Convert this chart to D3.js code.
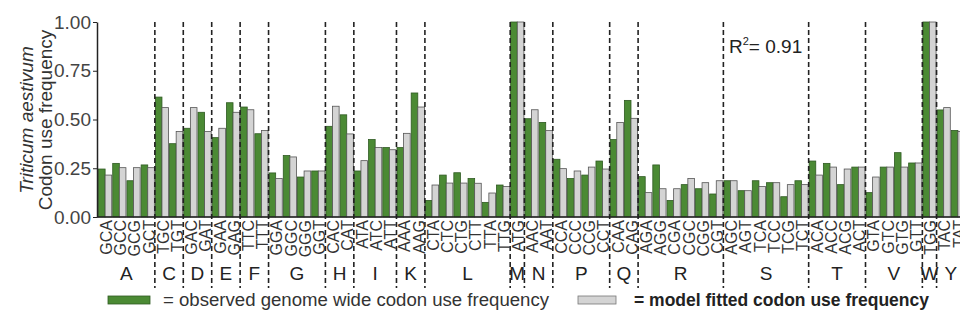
<!DOCTYPE html>
<html>
<head>
<meta charset="utf-8">
<script src="https://cdn.jsdelivr.net/npm/d3@7"></script>
<style>
  body { margin: 0; background: #fff; }
  text { font-family: "Liberation Sans", Arial, sans-serif; }
</style>
</head>
<body>
<div id="chart"></div>
<script>
// amino acid groups and their codons
const aminoAcids = ["A", "C", "D", "E", "F", "G", "H", "I", "K", "L", "M", "N", "P", "Q", "R", "S", "T", "V", "W", "Y"];
const codonsByAA = [
  ["GCA", "GCC", "GCG", "GCT"],
  ["TGC", "TGT"],
  ["GAC", "GAT"],
  ["GAA", "GAG"],
  ["TTC", "TTT"],
  ["GGA", "GGC", "GGG", "GGT"],
  ["CAC", "CAT"],
  ["ATA", "ATC", "ATT"],
  ["AAA", "AAG"],
  ["CTA", "CTC", "CTG", "CTT", "TTA", "TTG"],
  ["ATG"],
  ["AAC", "AAT"],
  ["CCA", "CCC", "CCG", "CCT"],
  ["CAA", "CAG"],
  ["AGA", "AGG", "CGA", "CGC", "CGG", "CGT"],
  ["AGC", "AGT", "TCA", "TCC", "TCG", "TCT"],
  ["ACA", "ACC", "ACG", "ACT"],
  ["GTA", "GTC", "GTG", "GTT"],
  ["TGG"],
  ["TAC", "TAT"]
];

// observed genome wide codon use frequency
const observed = [
  0.246, 0.275, 0.186, 0.267,
  0.615, 0.376,
  0.455, 0.537,
  0.407, 0.586,
  0.564, 0.427,
  0.226, 0.315, 0.205, 0.236,
  0.465, 0.524,
  0.236, 0.397, 0.356,
  0.356, 0.636,
  0.085, 0.215, 0.227, 0.197, 0.075, 0.164,
  1.0,
  0.504, 0.485,
  0.296, 0.197, 0.215, 0.287,
  0.397, 0.598,
  0.207, 0.267, 0.085, 0.166, 0.145, 0.118,
  0.186, 0.135, 0.186, 0.176, 0.104, 0.186,
  0.287, 0.275, 0.166, 0.256,
  0.125, 0.256, 0.330, 0.277,
  1.0,
  0.549, 0.444
];

// model fitted codon use frequency
const fitted = [
  0.215, 0.253, 0.253, 0.253,
  0.561, 0.438,
  0.561, 0.438,
  0.455, 0.537,
  0.550, 0.444,
  0.197, 0.308, 0.236, 0.236,
  0.568, 0.426,
  0.289, 0.356, 0.345,
  0.429, 0.564,
  0.164, 0.174, 0.174, 0.173, 0.123, 0.156,
  1.0,
  0.550, 0.443,
  0.248, 0.236, 0.256, 0.246,
  0.485, 0.506,
  0.125, 0.145, 0.145, 0.197, 0.176, 0.186,
  0.186, 0.135, 0.156, 0.176, 0.166, 0.166,
  0.215, 0.256, 0.246, 0.256,
  0.205, 0.256, 0.256, 0.277,
  1.0,
  0.561, 0.439
];

const yTicks = [0, 0.25, 0.5, 0.75, 1];

const width = 960;
const height = 320;
const green = "#4b8a34";
const grey = "#d4d4d4";

const codons = codonsByAA.flat();
const rows = codons.map((c, i) => ({ codon: c, obs: observed[i], fit: fitted[i] }));

const svg = d3
  .select("#chart")
  .append("svg")
  .attr("width", width)
  .attr("height", height);

// plot runs past the right edge, like the cropped original
const x = d3.scaleBand().domain(codons).range([98, 965]).padding(0);
const y = d3.scaleLinear().domain([0, 1]).range([217, 22]);
const bw = x.bandwidth() / 2;

// group boundaries
const groups = codonsByAA.map((list, i) => ({
  aa: aminoAcids[i],
  x0: x(list[0]),
  x1: x(list[list.length - 1]) + x.bandwidth(),
}));

// bars
const barG = svg.append("g");
barG
  .selectAll("rect.obs")
  .data(rows)
  .join("rect")
  .attr("class", "obs")
  .attr("x", (d) => x(d.codon) + 0.5)
  .attr("y", (d) => y(d.obs))
  .attr("width", bw - 0.5)
  .attr("height", (d) => y(0) - y(d.obs))
  .attr("fill", green)
  .attr("stroke", "#2f5a22")
  .attr("stroke-width", 0.8);

barG
  .selectAll("rect.fit")
  .data(rows)
  .join("rect")
  .attr("class", "fit")
  .attr("x", (d) => x(d.codon) + bw)
  .attr("y", (d) => y(d.fit))
  .attr("width", bw - 0.5)
  .attr("height", (d) => y(0) - y(d.fit))
  .attr("fill", grey)
  .attr("stroke", "#555")
  .attr("stroke-width", 0.8);

// dashed separators between amino acids
svg
  .append("g")
  .selectAll("line")
  .data(groups.slice(0, -1))
  .join("line")
  .attr("x1", (d) => d.x1)
  .attr("x2", (d) => d.x1)
  .attr("y1", y(1))
  .attr("y2", 288)
  .attr("stroke", "#222")
  .attr("stroke-width", 1.6)
  .attr("stroke-dasharray", "5,3");

// y axis
const yAxis = svg
  .append("g")
  .attr("transform", "translate(97,0)")
  .call(d3.axisLeft(y).tickValues(yTicks).tickFormat(d3.format(".2f")).tickSize(4).tickSizeOuter(0));
yAxis.select(".domain").attr("stroke", "#222").attr("stroke-width", 1.5);
yAxis.selectAll(".tick line").attr("stroke", "#222");
yAxis
  .selectAll(".tick text")
  .attr("font-size", "19px")
  .attr("fill", "#444")
  .attr("x", -6)
  .style("font-family", "Liberation Sans, Arial, sans-serif");

// x baseline
svg
  .append("line")
  .attr("x1", 97)
  .attr("x2", 965)
  .attr("y1", y(0))
  .attr("y2", y(0))
  .attr("stroke", "#222")
  .attr("stroke-width", 1.5);

// codon labels
svg
  .append("g")
  .selectAll("text")
  .data(codons)
  .join("text")
  .attr("transform", (d) => `translate(${x(d) + x.bandwidth() / 2 + 1},220) rotate(-90)`)
  .attr("text-anchor", "end")
  .attr("dy", "0.36em")
  .attr("font-size", "16px")
  .attr("fill", "#333")
  .text((d) => d);

// amino acid letters
svg
  .append("g")
  .selectAll("text")
  .data(groups)
  .join("text")
  .attr("x", (d) => (d.x0 + d.x1) / 2)
  .attr("y", 280)
  .attr("text-anchor", "middle")
  .attr("font-size", "19px")
  .attr("fill", "#222")
  .text((d) => d.aa);

// y title
const yTitle = svg
  .append("text")
  .attr("transform", "translate(0,120) rotate(-90)")
  .attr("text-anchor", "middle")
  .attr("font-size", "19px")
  .attr("fill", "#333");
yTitle.append("tspan").attr("x", 0).attr("y", 33).attr("font-style", "italic").text("Triticum aestivum");
yTitle.append("tspan").attr("x", 0).attr("y", 52).text("Codon use frequency");

// R squared
const r2 = svg
  .append("text")
  .attr("x", 729)
  .attr("y", 53)
  .attr("font-size", "19px")
  .attr("fill", "#222");
r2.append("tspan").text("R");
r2.append("tspan").attr("font-size", "11px").attr("dy", -8).text("2");
r2.append("tspan").attr("dy", 8).text("= 0.91");

// legend
const legend = svg.append("g");
legend
  .append("rect")
  .attr("x", 108)
  .attr("y", 296)
  .attr("width", 42)
  .attr("height", 8)
  .attr("fill", green)
  .attr("stroke", "#2f5a22")
  .attr("stroke-width", 0.8);
legend
  .append("text")
  .attr("x", 163)
  .attr("y", 306)
  .attr("font-size", "18px")
  .attr("fill", "#333")
  .attr("textLength", 386)
  .attr("lengthAdjust", "spacingAndGlyphs")
  .text("= observed genome wide codon use frequency");
legend
  .append("rect")
  .attr("x", 578)
  .attr("y", 296)
  .attr("width", 38)
  .attr("height", 8)
  .attr("fill", grey)
  .attr("stroke", "#777")
  .attr("stroke-width", 0.8);
legend
  .append("text")
  .attr("x", 634)
  .attr("y", 306)
  .attr("font-size", "18px")
  .attr("font-weight", "bold")
  .attr("fill", "#222")
  .attr("textLength", 295)
  .attr("lengthAdjust", "spacingAndGlyphs")
  .text("= model fitted codon use frequency");
</script>
</body>
</html>
